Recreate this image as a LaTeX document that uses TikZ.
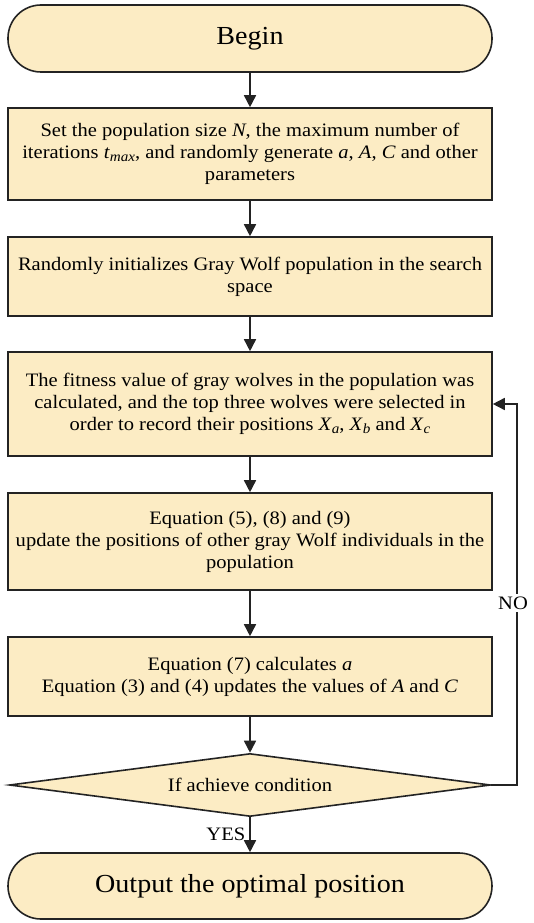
\documentclass[tikz,border=0pt]{standalone}
\usepackage{fontspec}
\setmainfont{Liberation Serif}[FakeStretch=1.08]
\usetikzlibrary{shapes.geometric,arrows.meta}

\definecolor{boxfill}{RGB}{252,236,196}
\definecolor{edgegray}{RGB}{35,35,35}
\newcommand{\lowit}[1]{\raisebox{-0.3ex}{\fontsize{14}{14}\selectfont\itshape #1}}

\begin{document}
\begin{tikzpicture}[x=1pt,y=-1pt]
  \useasboundingbox (0,0) rectangle (533,923);

  \begin{scope}[every node/.style={draw=edgegray,line width=1.6pt,fill=boxfill,
      align=center,inner sep=0pt,minimum width=484pt,font=\fontsize{19}{22}\selectfont}]
    \node[rectangle,rounded corners=33pt,minimum height=67pt,font=\fontsize{26}{26}\selectfont] (begin) at (250,38.5) {Begin};
    \node[minimum height=92pt] (init) at (250,154) {Set the population size \textit{N}, the maximum number of\\
      iterations \textit{t}\lowit{max}, and randomly generate \textit{a}, \textit{A}, \textit{C} and other\\
      parameters};
    \node[minimum height=79pt] (pop) at (250,276.5) {Randomly initializes Gray Wolf population in the search\\
      space};
    \node[minimum height=104pt] (fit) at (250,404) {The fitness value of gray wolves in the population was\\
      calculated, and the top three wolves were selected in\\
      order to record their positions \textit{X}\lowit{a}, \textit{X}\lowit{b} and \textit{X}\lowit{c}};
    \node[minimum height=97pt] (upd) at (250,541.5) {Equation (5), (8) and (9)\\
      update the positions of other gray Wolf individuals in the\\
      population};
    \node[minimum height=79pt] (coef) at (250,676.5) {Equation (7) calculates \textit{a}\\
      Equation (3) and (4) updates the values of \textit{A} and \textit{C}};
    \node[diamond,aspect=7.6,minimum width=481pt,minimum height=63pt] (cond) at (250,785) {If achieve condition};
    \node[rectangle,rounded corners=33pt,minimum height=66pt,font=\fontsize{26}{26}\selectfont] (out) at (250,886) {Output the optimal position};
  \end{scope}

  \coordinate (back) at (517,785);

  \begin{scope}[draw=edgegray,line width=1.6pt,-{Triangle[length=12pt,width=12pt]}]
    \draw (begin) -- (init);
    \draw (init) -- (pop);
    \draw (pop) -- (fit);
    \draw (fit) -- (upd);
    \draw (upd) -- (coef);
    \draw (coef) -- (cond);
    \draw (cond) -- node[left,inner sep=4pt,font=\fontsize{19}{19}\selectfont] {YES} (out);
    \draw (cond.east) -- (back) |- (fit.east);
  \end{scope}

  \node[fill=white,inner sep=3pt,font=\fontsize{19}{19}\selectfont] (no) at (513,603) {NO};

\end{tikzpicture}
\end{document}
